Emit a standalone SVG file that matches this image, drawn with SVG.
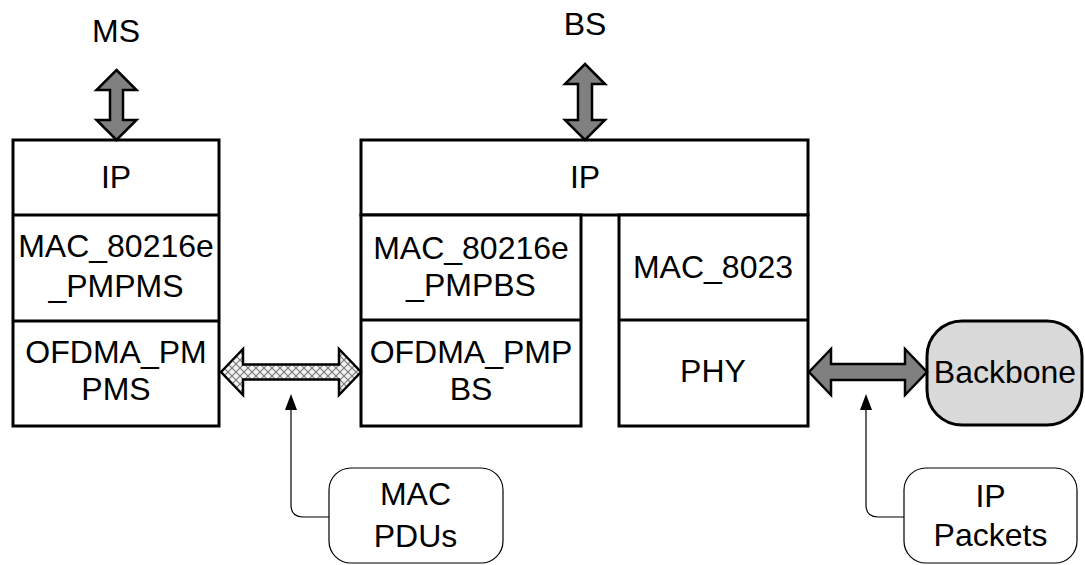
<svg xmlns="http://www.w3.org/2000/svg" width="1085" height="565" viewBox="0 0 1085 565">
  <style>
    .t { font-family: "Liberation Sans", Arial, sans-serif; font-size: 32px; fill: #000; text-anchor: middle; }
    .box { fill: #fff; stroke: #000; stroke-width: 3; }
    .ln { stroke: #000; stroke-width: 3; fill: none; }
    .arr { fill: #808080; stroke: #000; stroke-width: 2.5; stroke-linejoin: miter; }
    .hatch { fill: url(#xhatch); stroke: #000; stroke-width: 2.5; }
    .callout { fill: #fff; stroke: #000; stroke-width: 1.2; }
    .cline { fill: none; stroke: #000; stroke-width: 1.2; }
    .head { fill: #000; }
  </style>
  <defs>
    <pattern id="xhatch" patternUnits="userSpaceOnUse" width="8" height="8">
      <rect width="8" height="8" fill="#f2f2f2"/>
      <path d="M0,0 L8,8 M8,0 L0,8" stroke="#777" stroke-width="1.1"/>
    </pattern>
  </defs>
  <rect width="1085" height="565" fill="#fff"/>

  <g id="ms-label"><text class="t" x="116" y="42">MS</text></g>
  <g id="bs-label"><text class="t" x="585" y="35">BS</text></g>

  <g id="ms-stack">
    <rect class="box" x="13" y="140" width="206" height="286"/>
    <line class="ln" x1="13" y1="215" x2="219" y2="215"/>
    <line class="ln" x1="13" y1="321" x2="219" y2="321"/>
    <text class="t" x="116" y="188">IP</text>
    <text class="t" x="116" y="257">MAC_80216e</text>
    <text class="t" x="116" y="297">_PMPMS</text>
    <text class="t" x="116" y="363">OFDMA_PM</text>
    <text class="t" x="116" y="400">PMS</text>
  </g>

  <g id="bs-ip">
    <rect class="box" x="361" y="140" width="447" height="75"/>
    <text class="t" x="585" y="188">IP</text>
  </g>
  <g id="bs-left">
    <rect class="box" x="361" y="215" width="220" height="211"/>
    <line class="ln" x1="361" y1="320" x2="581" y2="320"/>
    <text class="t" x="471" y="259">MAC_80216e</text>
    <text class="t" x="471" y="296">_PMPBS</text>
    <text class="t" x="471" y="363">OFDMA_PMP</text>
    <text class="t" x="471" y="400">BS</text>
  </g>
  <g id="bs-right">
    <rect class="box" x="619" y="215" width="189" height="211"/>
    <line class="ln" x1="619" y1="320" x2="808" y2="320"/>
    <text class="t" x="713" y="278">MAC_8023</text>
    <text class="t" x="713" y="382">PHY</text>
  </g>

  <g id="backbone">
    <rect x="927" y="321" width="155" height="104" rx="35" ry="35" fill="#d9d9d9" stroke="#000" stroke-width="3"/>
    <text class="t" x="1005" y="383">Backbone</text>
  </g>

  <g id="mac-pdus">
    <rect class="callout" x="329" y="468" width="174" height="95" rx="22" ry="22"/>
    <text class="t" x="415.5" y="505">MAC</text>
    <text class="t" x="415.5" y="547">PDUs</text>
  </g>
  <g id="ip-packets">
    <rect class="callout" x="904" y="468" width="173" height="95" rx="22" ry="22"/>
    <text class="t" x="990.5" y="507">IP</text>
    <text class="t" x="990.5" y="546">Packets</text>
  </g>

  <g id="connectors">
    <polygon class="arr" points="116.5,70 136.5,90 123,90 123,120 136.5,120 116.5,140 96.5,120 110,120 110,90 96.5,90"/>
    <polygon class="arr" points="585,64 605,84 592,84 592,120 605,120 585,140 565,120 578,120 578,84 565,84"/>
    <polygon class="hatch" points="221,372 243,349 243,364.5 339,364.5 339,349 361,372 339,395 339,379.5 243,379.5 243,395"/>
    <polygon class="arr" points="809,372 831,349 831,364 905,364 905,349 927,372 905,395 905,380 831,380 831,395"/>
    <path class="cline" d="M329,517 H303 Q291,517 291,505 V409"/>
    <polygon class="head" points="291,394 285,410 297,410"/>
    <path class="cline" d="M904,517 H878 Q866,517 866,505 V409"/>
    <polygon class="head" points="866,394 860,410 872,410"/>
  </g>
</svg>
